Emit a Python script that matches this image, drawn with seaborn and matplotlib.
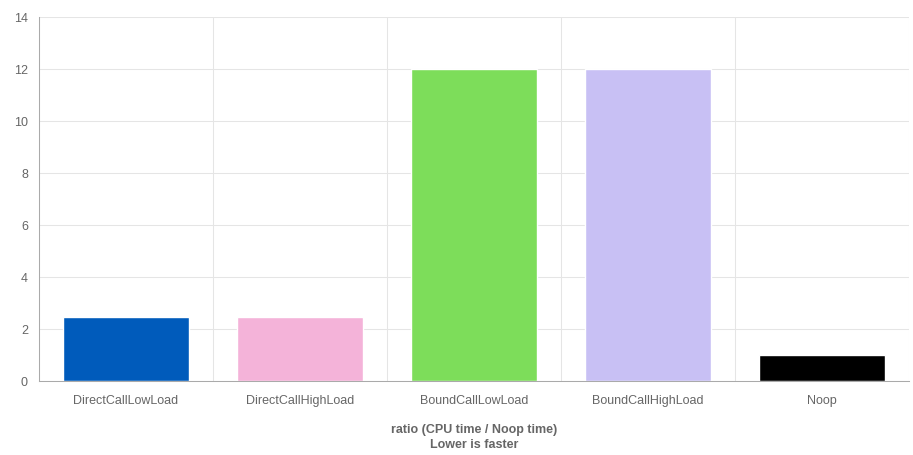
import matplotlib
matplotlib.use("Agg")
import matplotlib.pyplot as plt
import seaborn as sns
import pandas as pd
import numpy as np

categories = ["DirectCallLowLoad", "DirectCallHighLoad", "BoundCallLowLoad", "BoundCallHighLoad", "Noop"]
ratios = [2.46, 2.46, 12.0, 12.0, 1.0]
colors = ["#005bbb", "#f4b3d9", "#7ddd5a", "#c8c0f4", "#000000"]
yticks = [0, 2, 4, 6, 8, 10, 12, 14]

sns.set_theme(style="white")
plt.rcParams["font.family"] = ["Liberation Sans", "DejaVu Sans"]

df = pd.DataFrame({"cat": categories, "ratio": ratios})

fig = plt.figure(figsize=(9.13, 4.55), dpi=100)
ax = fig.add_axes([39/913, 74/455, 870/913, 364/455])

sns.barplot(data=df, x="cat", y="ratio", hue="cat", palette=colors,
            order=categories, hue_order=categories, width=0.72,
            legend=False, ax=ax, saturation=1)

ax.set_ylim(0, 14)
ax.set_xlim(-0.5, len(categories) - 0.5)
ax.set_yticks(yticks)
ax.set_yticklabels([str(t) for t in yticks], fontsize=9, color="#666666")
ax.set_xticks(range(len(categories)))
ax.set_xticklabels(categories, fontsize=9, color="#666666")
ax.tick_params(axis="x", which="major", length=0, pad=10)
ax.set_xticks(np.arange(-0.5, len(categories), 1.0), minor=True)
ax.tick_params(axis="x", which="minor", length=10, color="#d9d9d9", width=0.75)
ax.tick_params(axis="y", which="major", length=5, color="#d9d9d9", width=0.75, pad=3)

ax.grid(True, axis="y", which="major", color="#e5e5e5", linewidth=0.75)
ax.grid(True, axis="x", which="minor", color="#e5e5e5", linewidth=0.75)
ax.set_axisbelow(True)

for s in ["top", "right"]:
    ax.spines[s].set_visible(False)
ax.spines["left"].set_color("#aaaaaa")
ax.spines["bottom"].set_color("#aaaaaa")
ax.spines["left"].set_linewidth(0.75)
ax.spines["bottom"].set_linewidth(0.75)

ax.set_xlabel("ratio (CPU time / Noop time)\nLower is faster", fontsize=9,
              fontweight="bold", color="#666666", labelpad=12, linespacing=1.35)
ax.set_ylabel("")

fig.savefig("out.png", dpi=100)
